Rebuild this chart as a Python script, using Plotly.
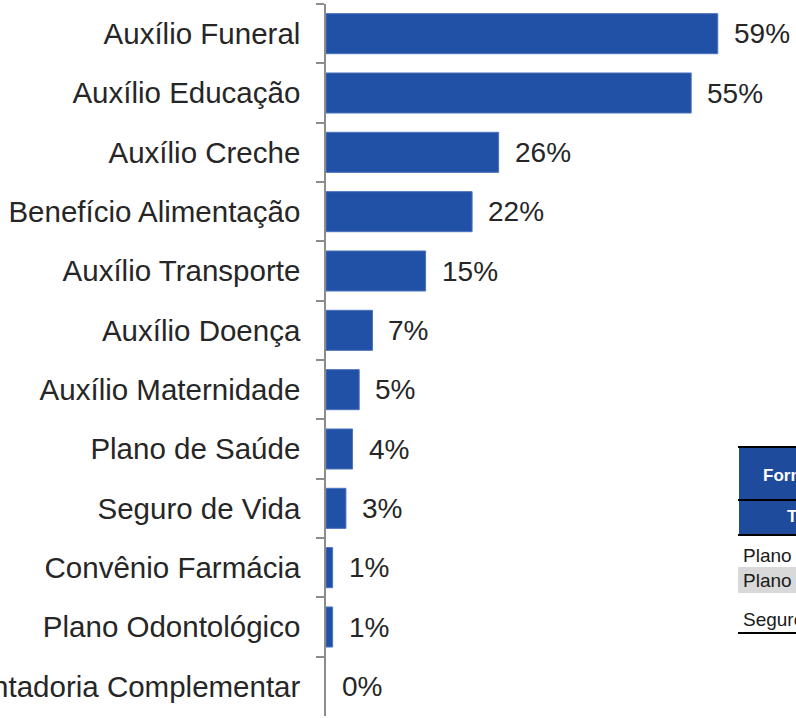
import plotly.graph_objects as go

# Benefit categories and share of agreements offering each one (%)
categories = [
    "Auxílio Funeral",
    "Auxílio Educação",
    "Auxílio Creche",
    "Benefício Alimentação",
    "Auxílio Transporte",
    "Auxílio Doença",
    "Auxílio Maternidade",
    "Plano de Saúde",
    "Seguro de Vida",
    "Convênio Farmácia",
    "Plano Odontológico",
    "Aposentadoria Complementar",
]
shares = [59, 55, 26, 22, 15, 7, 5, 4, 3, 1, 1, 0]

# Side table (only its first column is in view)
table_header = ["Forma de Concessão", "Tipo"]
table_rows = ["Plano de Saúde", "Plano Odontológico", "Seguro de Vida"]

W, H = 796, 718
ML, MR, MT, MB = 326, 72, 4, 2
PW = W - ML - MR
PH = H - MT - MB

BAR_BLUE = "#2151a7"
HEAD_BLUE = "#1f4b9d"
TEXT = "#262626"
AXIS_GREY = "#8c8c8c"
FONT = "Liberation Sans, Arial, sans-serif"


def px_x(px):
    return (px - ML) / PW


def px_y(py):
    return 1 - (py - MT) / PH


fig = go.Figure(
    go.Bar(
        x=shares,
        y=categories,
        orientation="h",
        width=0.675,
        marker=dict(
            color=BAR_BLUE,
            line=dict(color="#4d73bd", width=[1 if v > 0 else 0 for v in shares]),
        ),
        hoverinfo="skip",
    )
)

# value labels to the right of each bar
annotations = []
for cat, val in zip(categories, shares):
    annotations.append(
        dict(
            x=val, y=cat, xref="x", yref="y",
            text=f"{val}%", showarrow=False,
            xanchor="left", yanchor="middle", xshift=14,
            font=dict(family=FONT, size=28, color=TEXT),
        )
    )

# side table: header band, rules, zebra row and first-column text
shapes = [
    dict(type="rect", xref="paper", yref="paper",
         x0=px_x(739), x1=px_x(830), y0=px_y(534), y1=px_y(447),
         fillcolor=HEAD_BLUE, line=dict(width=0), layer="above"),
    dict(type="rect", xref="paper", yref="paper",
         x0=px_x(738), x1=px_x(830), y0=px_y(593), y1=px_y(567),
         fillcolor="#d9d9d9", line=dict(width=0), layer="above"),
]
for yy in [447, 500, 535, 633]:
    shapes.append(
        dict(type="line", xref="paper", yref="paper",
             x0=px_x(738), x1=px_x(830), y0=px_y(yy), y1=px_y(yy),
             line=dict(color="#000000", width=2), layer="above")
    )

header_pos = [(761, 476), (785, 516)]
for txt, (hx, hy) in zip(table_header, header_pos):
    annotations.append(
        dict(x=px_x(hx), y=px_y(hy), xref="paper", yref="paper",
             text=f"<b>{txt}</b>", showarrow=False,
             xanchor="left", yanchor="middle",
             font=dict(family=FONT, size=17, color="#ffffff"))
    )
row_y = [555, 580, 619]
for txt, ry in zip(table_rows, row_y):
    annotations.append(
        dict(x=px_x(741), y=px_y(ry), xref="paper", yref="paper",
             text=txt, showarrow=False,
             xanchor="left", yanchor="middle",
             font=dict(family=FONT, size=19, color="#1a1a1a"))
    )

fig.update_layout(
    width=W, height=H,
    margin=dict(l=ML, r=MR, t=MT, b=MB, pad=0, autoexpand=False),
    paper_bgcolor="#ffffff", plot_bgcolor="#ffffff",
    showlegend=False,
    annotations=annotations,
    shapes=shapes,
    font=dict(family=FONT, color=TEXT),
)
fig.update_xaxes(
    range=[0, PW / 6.64], visible=False, fixedrange=True,
)
fig.update_yaxes(
    type="category",
    categoryorder="array", categoryarray=categories,
    autorange="reversed", automargin=False,
    showline=True, linecolor=AXIS_GREY, linewidth=1.5,
    ticks="outside", tickson="boundaries", ticklen=8,
    tickcolor=AXIS_GREY, tickwidth=1.5,
    ticklabelstandoff=18,
    tickfont=dict(family=FONT, size=29.5, color=TEXT),
    showgrid=False, zeroline=False, fixedrange=True,
)

fig.write_html("out.html", config={"displayModeBar": False})
